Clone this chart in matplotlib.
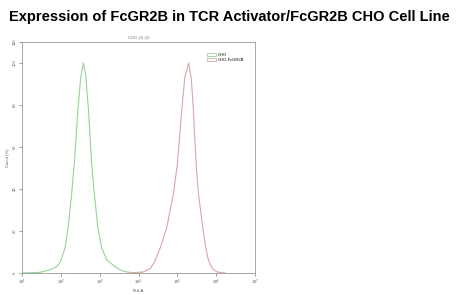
import numpy as np
import matplotlib.pyplot as plt
from matplotlib.patches import Patch

# --- data (x as log10 of FL4-A) ---
cho_logx = np.array([1.00, 1.46, 1.72, 1.89, 1.98, 2.11, 2.19, 2.28, 2.35, 2.44, 2.51, 2.58,
                     2.64, 2.71, 2.79, 2.86, 2.95, 3.05, 3.19, 3.40, 3.55, 3.70, 3.91, 4.10])
cho_count = np.array([0.0, 0.3, 1.5, 3.0, 5.0, 12.0, 22.0, 38.0, 53.0, 78.0, 93.0, 100.0,
                      94.0, 78.0, 53.0, 38.0, 22.0, 12.0, 6.0, 3.0, 1.2, 0.5, 0.0, 0.0])

fc_logx = np.array([3.78, 4.12, 4.30, 4.43, 4.58, 4.73, 4.90, 5.00, 5.10, 5.19, 5.29,
                    5.36, 5.41, 5.46, 5.49, 5.54, 5.65, 5.73, 5.80, 5.90, 6.02, 6.23])
fc_count = np.array([0.0, 0.5, 2.0, 6.0, 13.0, 22.0, 38.0, 52.0, 75.0, 93.0, 100.0,
                     92.0, 78.0, 60.0, 50.0, 38.0, 22.0, 12.0, 6.0, 2.0, 0.5, 0.0])

labels = ['CHO', 'CHO-FcGR2B']
colors = ['#98d298', '#d8a6a6']
yticks = [0, 20, 40, 60, 80, 100, 110]

plt.rcParams['font.family'] = ['Liberation Sans', 'DejaVu Sans']

fig = plt.figure(figsize=(4.58, 2.95), dpi=100)
fig.text(0.5, 0.942, 'Expression of FcGR2B in TCR Activator/FcGR2B CHO Cell Line',
         ha='center', va='center', fontsize=10.5, fontweight='bold')

ax = fig.add_axes([0.048, 0.0746, 0.509, 0.783])
ax.plot(10 ** cho_logx, cho_count, color=colors[0], lw=0.8)
ax.plot(10 ** fc_logx, fc_count, color=colors[1], lw=0.8)

ax.set_xscale('log')
ax.set_xlim(10, 1e7)
ax.set_ylim(0, 110)
ax.set_yticks(yticks)
ax.set_yticklabels([str(t) for t in yticks], rotation=90, va='center')
ax.set_xticks([10 ** k for k in range(1, 8)])
ax.tick_params(axis='both', which='major', labelsize=3, length=2, width=0.4,
               colors='#555555', pad=1.5)
ax.tick_params(axis='both', which='minor', length=1, width=0.3, colors='#888888')
for s in ax.spines.values():
    s.set_color('#999999')
    s.set_linewidth(0.6)

ax.set_title('CHO (3) (2)', fontsize=3, color='#777777', pad=2)
ax.set_xlabel('FL4-A', fontsize=3, color='#555555', labelpad=1.5)
ax.set_ylabel('Count (%)', fontsize=3, color='#555555', labelpad=2)

handles = [Patch(facecolor='white', edgecolor=c, lw=0.6) for c in colors]
ax.legend(handles, labels, loc='upper right', bbox_to_anchor=(0.97, 0.97),
          fontsize=3, frameon=False, handlelength=2.2, handleheight=0.6,
          handletextpad=0.4, labelspacing=0.3)

fig.savefig('out.png', dpi=100)
